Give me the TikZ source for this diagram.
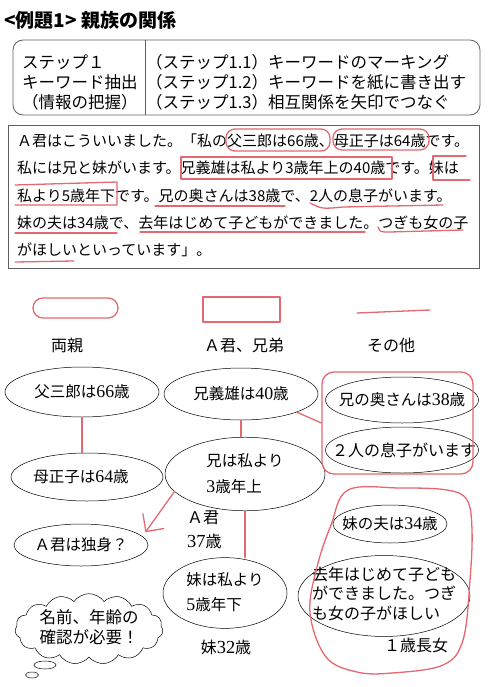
\documentclass[tikz,border=0pt]{standalone}
\usepackage{fontspec}
\setmainfont{Noto Sans CJK JP}
\newfontfamily\serifnum{Liberation Serif}[Scale=1.15]
\usepackage{tikz}
\usetikzlibrary{shapes.geometric,shapes.symbols,arrows.meta,calc}
\definecolor{markred}{RGB}{228,104,112}
\definecolor{framegray}{RGB}{95,95,95}
\newcommand{\sdig}[1]{{\serifnum #1}}
\newcommand{\setfs}[2]{\fontsize{#1}{#2}\selectfont}
\tikzset{
  marking/.style={
    draw=markred,
    line width=1.3pt,
    line cap=round,
    line join=round
  },
  memo/.style={
    draw,
    shape=ellipse,
    inner sep=0pt,
    line width=0.5pt,
    font=\setfs{15.5}{26}
  },
  stepline/.style={
    anchor=west,
    inner sep=0pt,
    font=\setfs{16.5}{16.5}
  },
  textline/.style={
    anchor=west,
    inner sep=0pt,
    font=\setfs{15}{15}
  },
  tag/.style={
    inner sep=0pt,
    font=\setfs{16}{24}
  }
}

\begin{document}
\begin{tikzpicture}[x=1pt,y=-1pt]
  \useasboundingbox (0,0) rectangle (487,687);

  % title
  \node[anchor=west, inner sep=0pt, font=\bfseries\setfs{19}{19}] (title) at (4,20) {<例題1> 親族の関係};

  % step box
  \draw[framegray, line width=0.8pt, rounded corners=10pt] (13,40) rectangle (480,115);
  \draw[framegray, line width=0.8pt] (145,40) -- (145,115);
  \node[stepline] (s1) at (22,62) {ステップ１};
  \node[stepline] (s2) at (22,82) {キーワード抽出};
  \node[stepline] (s3) at (22,102) {（情報の把握）};
  \node[stepline] (t1) at (146,62) {（ステップ1.1）キーワードのマーキング};
  \node[stepline] (t2) at (146,82) {（ステップ1.2）キーワードを紙に書き出す};
  \node[stepline] (t3) at (146,102) {（ステップ1.3）相互関係を矢印でつなぐ};

  % problem text
  \draw[framegray, line width=0.8pt] (8,125) rectangle (479,268);
  \node[textline] (p1) at (17,141) {Ａ君はこういいました。「私の父三郎は66歳、母正子は64歳です。};
  \node[textline] (p2) at (17,168) {私には兄と妹がいます。兄義雄は私より3歳年上の40歳です。妹は};
  \node[textline] (p3) at (17,196) {私より5歳年下です。兄の奥さんは38歳で、2人の息子がいます。};
  \node[textline] (p4) at (17,223) {妹の夫は34歳で、去年はじめて子どもができました。つぎも女の子};
  \node[textline] (p5) at (17,250) {がほしいといっています」。};

  % markings
  \draw[marking, rounded corners=9pt] (226,129) rectangle (330,151);
  \draw[marking, rounded corners=9pt] (333,129) rectangle (429,150);
  \draw[marking] (181,157) rectangle (392,179);
  \draw[marking] (466,156) -- (433,156) -- (433,180) -- (470,180);
  \draw[marking] (15,185) -- (117,182) -- (117,205) -- (15,205);
  \draw[marking] (155,206) -- (285,206);
  \draw[marking] (310,203) .. controls (322,209) .. (343,207) -- (443,205);
  \draw[marking] (15,233) -- (117,233);
  \draw[marking] (140,232) -- (365,232);
  \draw[marking] (378,227) .. controls (380,232) .. (390,232) -- (463,230);
  \draw[marking] (15,262) -- (74,261);

  % legend
  \draw[marking, rounded corners=10pt] (33,298) rectangle (118,318);
  \draw[marking] (203,297) rectangle (280,322);
  \draw[marking] (357,313) -- (430,310);
  \node[tag] (lgA) at (67,345) {両親};
  \node[tag] (lgB) at (244,345) {Ａ君、兄弟};
  \node[tag] (lgC) at (391,345) {その他};

  % memo ellipses
  \node[memo, minimum width=154pt, minimum height=50pt] (e1) at (82,392) {\makebox[0pt]{父三郎は\sdig{66}歳}};
  \node[memo, minimum width=154pt, minimum height=52pt] (e2) at (241,394) {\makebox[0pt]{兄義雄は\sdig{40}歳}};
  \node[memo, minimum width=153pt, minimum height=46pt] (e3) at (402,400) {\makebox[0pt]{兄の奥さんは\sdig{38}歳}};
  \node[memo, minimum width=153pt, minimum height=46pt, font=\setfs{16}{16}] (e4) at (402,450) {\makebox[0pt]{\hspace*{4pt}２人の息子がいます}};
  \node[memo, minimum width=152pt, minimum height=48pt] (e5) at (87,477) {\makebox[0pt]{母正子は\sdig{64}歳\hspace*{12pt}}};
  \node[memo, minimum width=160pt, minimum height=64pt] (e6) at (245,474) {\makebox[0pt]{\begin{tabular}{@{}l@{}}兄は私より\\\sdig{3}歳年上\end{tabular}}};
  \node[memo, minimum width=134pt, minimum height=42pt] (e7) at (81,545) {\makebox[0pt]{Ａ君は独身？}};
  \node[memo, minimum width=114pt, minimum height=38pt] (e8) at (390,524) {\makebox[0pt]{妹の夫は\sdig{34}歳}};
  \node[memo, minimum width=172pt, minimum height=74pt, font=\setfs{16}{18.5}] (e9) at (384,596) {\makebox[0pt]{\begin{tabular}{@{}l@{}}去年はじめて子ども\\ができました。つぎ\\も女の子がほしい\end{tabular}}};
  \node[memo, minimum width=124pt, minimum height=60pt, font=\setfs{15.5}{25}] (e10) at (225,593) {\makebox[0pt]{\begin{tabular}{@{}l@{}}妹は私より\\\sdig{5}歳年下\end{tabular}}};

  % free labels
  \node[tag, anchor=west, align=left] (akun) at (187,530) {Ａ君\\\sdig{37}歳};
  \node[tag] (imo) at (226,647) {妹\sdig{32}歳};
  \node[tag] (musume) at (416,645) {１歳長女};

  % groups
  \node[marking, rounded corners=12pt, minimum width=151pt, minimum height=102pt] (grpA) at (397.5,423) {};
  \draw[marking] plot[smooth cycle, tension=0.6] coordinates {(348,490) (331,525) (317,567) (310,613) (326,657) (357,672) (392,673) (443,665) (463,640) (470,580) (472,530) (467,500) (447,490) (400,488)};

  % connectors
  \draw[marking] (e1.south) -- (e1.south |- e5.north);
  \draw[marking] (e2.south) -- (e2.south |- e6.north);
  \draw[marking] (e6.south) -- (e6.south |- e10.north);
  \draw[marking] (e2.-18) -- (grpA.west);
  \draw[marking, -{Straight Barb[length=13pt,width=26pt]}, shorten >=5pt] (e6.194) -- (e7.8);

  % thought cloud
  \node[draw, cloud, cloud puffs=15, cloud puff arc=110, aspect=2.5, inner sep=0pt, line width=0.5pt,
        minimum width=148pt, minimum height=58pt, font=\setfs{16.5}{20}] (memo) at (89,629)
        {\makebox[0pt]{\begin{tabular}{@{}l@{}}名前、年齢の\\確認が必要！\end{tabular}}};
  \node[draw, ellipse, inner sep=0pt, line width=0.5pt, minimum width=22pt, minimum height=8pt] (bub1) at (45,665) {};
  \node[draw, ellipse, inner sep=0pt, line width=0.5pt, minimum width=13pt, minimum height=6pt] (bub2) at (32,675) {};
\end{tikzpicture}
\end{document}
